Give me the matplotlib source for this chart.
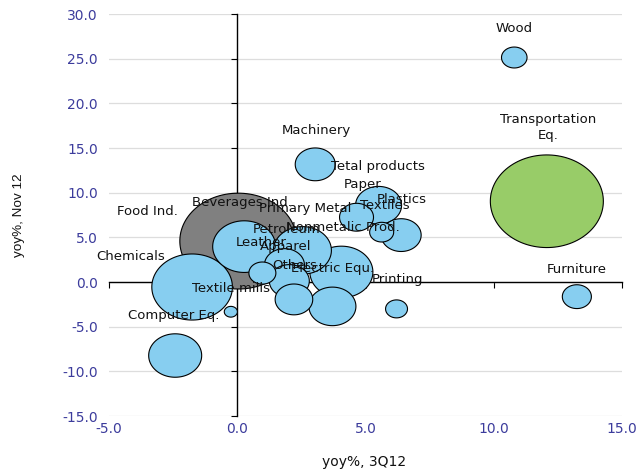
import numpy as np
import matplotlib
matplotlib.use("Agg")
import matplotlib.pyplot as plt
from matplotlib.path import Path

# ---------------- data ----------------
names = ["Wood", "Transportation\nEq.", "Furniture", "Machinery", "Printing",
         "Tetal products", "Paper", "Plastics", "Textiles", "Nonmetalic Prod.",
         "Electric Equ.", "Others", "Primary Metal", "Petroleum", "Leather",
         "Apparel", "Beverages Ind.", "Food Ind.", "Chemicals", "Textile mills",
         "Computer Eq."]
yoy_3q12 = [10.80, 12.07, 13.24, 3.04, 6.21, 5.51, 4.65, 6.39, 5.63, 4.06,
            3.71, 2.21, 2.54, 1.84, 0.98, 2.03, 0.27, 0.04, -1.76, -0.25, -2.42]
yoy_nov12 = [25.13, 9.04, -1.64, 13.17, -3.01, 8.59, 7.25, 5.25, 5.58, 1.12,
             -2.73, -1.95, 3.54, 1.90, 1.00, 0.11, 3.96, 4.58, -0.56, -3.33, -8.23]
weight = [0.95, 18.6, 1.23, 2.33, 0.70, 3.08, 1.68, 2.33, 0.84, 5.78,
          3.22, 2.06, 4.9, 2.33, 1.06, 2.33, 5.78, 19.9, 9.46, 0.25, 4.09]

xticks = [-5, 0, 5, 10, 15]
xtick_labels = ["-5.0", "0.0", "5.0", "10.0", "15.0"]
yticks = [-15, -10, -5, 0, 5, 10, 15, 20, 25, 30]
ytick_labels = ["-15.0", "-10.0", "-5.0", "0.0", "5.0", "10.0", "15.0",
                "20.0", "25.0", "30.0"]
xlabel = "yoy%, 3Q12"
ylabel = "yoy%, Nov 12"

# ---------------- style ----------------
base_color = "#87CEF0"
special_colors = {"Food Ind.": "#808080", "Transportation\nEq.": "#98CC68"}
tick_color = "#3C3C9C"
size_scale = 356.0          # points^2 per weight unit
aspect = 1.22               # bubbles are wider than tall in the reference

# label offsets (pixels) relative to bubble centre: (dx, dy_up)
label_offsets = {
    "Wood": (0, 26), "Transportation\nEq.": (1, 74), "Furniture": (0, 24),
    "Machinery": (1, 30), "Printing": (1, 26), "Tetal products": (-1, 35),
    "Paper": (6, 29), "Plastics": (1, 32), "Textiles": (3, 23),
    "Nonmetalic Prod.": (1, 41), "Electric Equ.": (0, 34), "Others": (1, 30),
    "Primary Metal": (3, 38), "Petroleum": (2, 32), "Leather": (-1, 27),
    "Apparel": (-4, 31), "Beverages Ind.": (-2, 41), "Food Ind.": (-91, 26),
    "Chemicals": (-61, 27), "Textile mills": (0, 20), "Computer Eq.": (-1, 37),
}

plt.rcParams['font.family'] = ['DejaVu Sans']

fig = plt.figure(figsize=(6.36, 4.71), dpi=100)
ax = fig.add_axes([109/636, 1-416/471, 513/636, 402/471])

ax.set_xlim(-5, 15)
ax.set_ylim(-15, 30)

# elliptical bubble marker
t = np.linspace(0, 2*np.pi, 120)
ell = Path(np.column_stack([np.cos(t), np.sin(t)/aspect]), closed=True)

order = np.argsort(-np.array(weight), kind="stable")
xs = np.array(yoy_3q12)[order]
ys = np.array(yoy_nov12)[order]
ss = np.array(weight)[order] * size_scale
cs = [special_colors.get(names[i], base_color) for i in order]
ax.scatter(xs, ys, s=ss, c=cs, marker=ell, edgecolors="black",
           linewidths=0.8, zorder=2)

for i, n in enumerate(names):
    dx, dy = label_offsets[n]
    if "\n" in n:
        ax.annotate(n, (yoy_3q12[i], yoy_nov12[i]), xytext=(dx, dy),
                    textcoords="offset pixels", ha="center", va="center",
                    multialignment="center", linespacing=1.3,
                    fontsize=9.5, color="#111111", zorder=3)
    else:
        ax.annotate(n, (yoy_3q12[i], yoy_nov12[i]), xytext=(dx, dy),
                    textcoords="offset pixels", ha="center", va="baseline",
                    fontsize=9.5, color="#111111", zorder=3)

# axes crossing at zero
for side in ["top", "right"]:
    ax.spines[side].set_visible(False)
ax.spines["left"].set_position(("data", 0))
ax.spines["bottom"].set_position(("data", 0))
for side in ["left", "bottom"]:
    ax.spines[side].set_linewidth(1.0)
    ax.spines[side].set_zorder(0.8)
ax.set_axisbelow(True)
ax.set_xticks(xticks)
ax.set_yticks(yticks)
ax.tick_params(direction="out", length=4, width=0.8, labelleft=False,
               labelbottom=False, color="black")
ax.grid(axis="y", color="#DDDDDD", linewidth=0.9)
ax.grid(axis="x", visible=False)

# tick labels at the plot edges
sy = ax.secondary_yaxis("left")
sy.set_yticks(yticks, labels=ytick_labels)
sy.spines["left"].set_visible(False)
sy.tick_params(length=0, pad=8, labelcolor=tick_color, labelsize=10)

sx = ax.secondary_xaxis("bottom")
sx.set_xticks(xticks, labels=xtick_labels)
sx.spines["bottom"].set_visible(False)
sx.tick_params(length=0, pad=4, labelcolor=tick_color, labelsize=10)

fig.text(364/636, 1-462/471, xlabel, ha="center", va="center",
         fontsize=10, color="#111111")
fig.text(19/636, 1-215/471, ylabel, ha="center", va="center", rotation=90,
         fontsize=9.7, family="Liberation Sans", color="#111111")

fig.savefig("out.png", dpi=100, facecolor="white")
